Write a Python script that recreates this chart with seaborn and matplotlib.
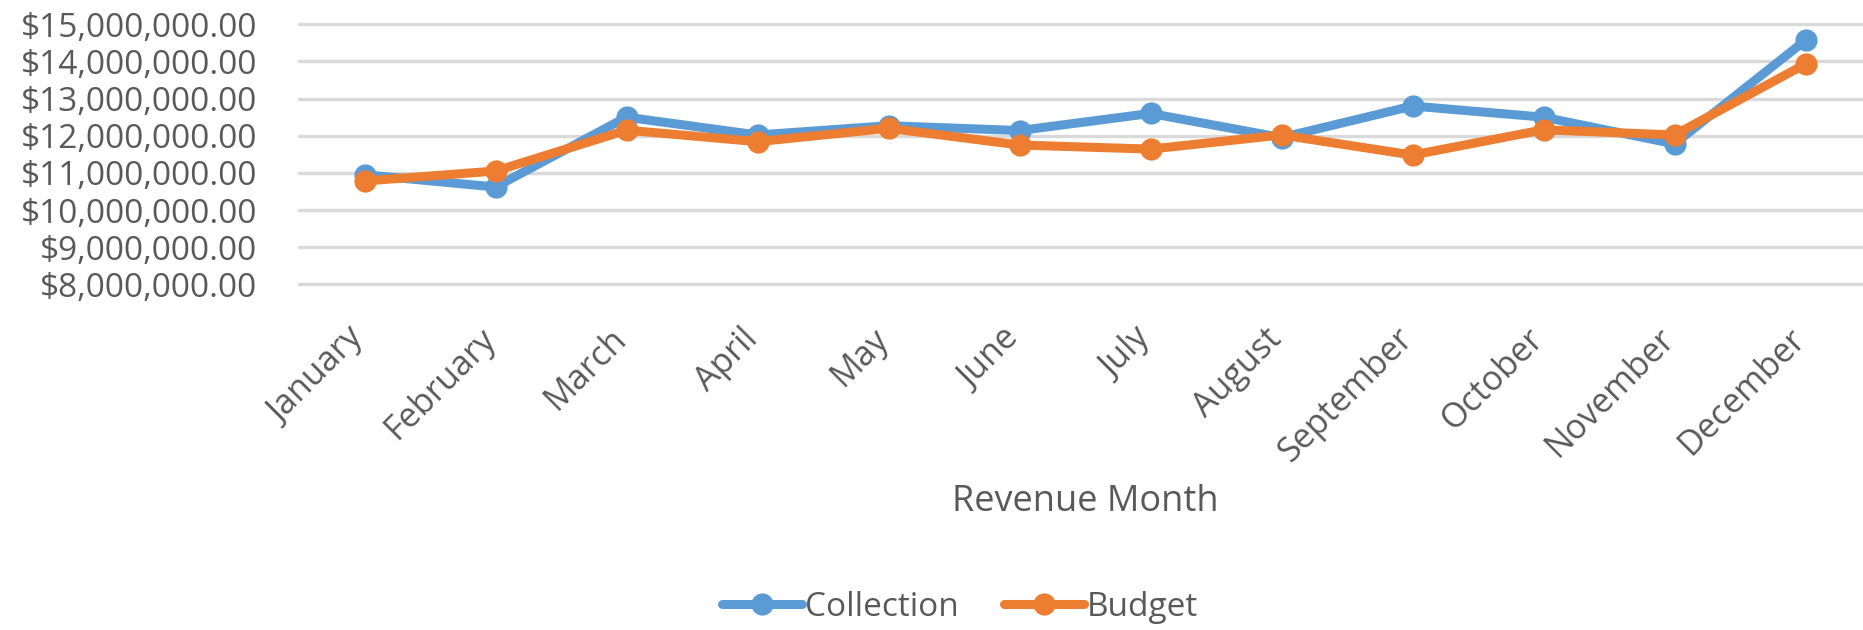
import matplotlib
matplotlib.use("Agg")
import matplotlib.pyplot as plt
import matplotlib.transforms as mtrans
import seaborn as sns
import pandas as pd
from matplotlib.ticker import StrMethodFormatter, MultipleLocator

months = ["January", "February", "March", "April", "May", "June", "July",
          "August", "September", "October", "November", "December"]
collection = [10950000, 10620000, 12500000, 12020000, 12270000, 12140000,
              12600000, 11950000, 12800000, 12500000, 11780000, 14570000]
budget = [10780000, 11050000, 12150000, 11840000, 12200000, 11750000,
          11640000, 12020000, 11480000, 12160000, 12020000, 13930000]
series_names = ["Collection", "Budget"]
colors = ["#5B9BD5", "#ED7D31"]

df = pd.DataFrame({
    "Revenue Month": months * 2,
    "Value": collection + budget,
    "Series": [series_names[0]] * len(months) + [series_names[1]] * len(months),
})

sns.set_theme(style="white")
plt.rcParams["font.family"] = ["Open Sans", "DejaVu Sans"]
text_color = "#595959"

fig = plt.figure(figsize=(18.63, 6.30), dpi=100)
ax = fig.add_axes([299 / 1863, 1 - 284.3 / 630, 1572 / 1863, 260 / 630])

sns.lineplot(data=df, x="Revenue Month", y="Value", hue="Series",
             palette=dict(zip(series_names, colors)), marker="o",
             markersize=16, markeredgewidth=0, linewidth=6.5, sort=False,
             ax=ax, legend=True)

ax.set_xlim(-0.5, 11.5)
ax.set_ylim(8e6, 15e6)
ax.yaxis.set_major_locator(MultipleLocator(1e6))
ax.yaxis.set_major_formatter(StrMethodFormatter("${x:,.2f}"))
ax.grid(axis="y", color="#D9D9D9", linewidth=2.4)
ax.grid(axis="x", visible=False)
ax.set_axisbelow(True)
for s in ax.spines.values():
    s.set_visible(False)

ax.tick_params(axis="y", length=0, pad=30, labelsize=24, labelcolor=text_color)
ax.tick_params(axis="x", length=0, pad=27, labelsize=24.5, labelcolor=text_color)
offset = mtrans.ScaledTranslation(7 / 100, 0, fig.dpi_scale_trans)
for lbl in ax.get_xticklabels():
    lbl.set_rotation(45)
    lbl.set_ha("right")
    lbl.set_va("top")
    lbl.set_transform(lbl.get_transform() + offset)
for gl in ax.get_ygridlines():
    gl.set_clip_on(False)

ax.set_ylabel("")
ax.set_xlabel("Revenue Month", fontsize=26, color=text_color, va="center")
ax.xaxis.set_label_coords(0.5, (284.3 - 502) / 260)

handles, labels = ax.get_legend_handles_labels()
ax.get_legend().remove()
fig.legend(handles, labels, loc="center", bbox_to_anchor=(960 / 1863, 23 / 630),
           ncol=2, frameon=False, fontsize=24, labelcolor=text_color,
           handlelength=2.4, handletextpad=0.1, columnspacing=1.35)

fig.savefig("out.png", dpi=100)
